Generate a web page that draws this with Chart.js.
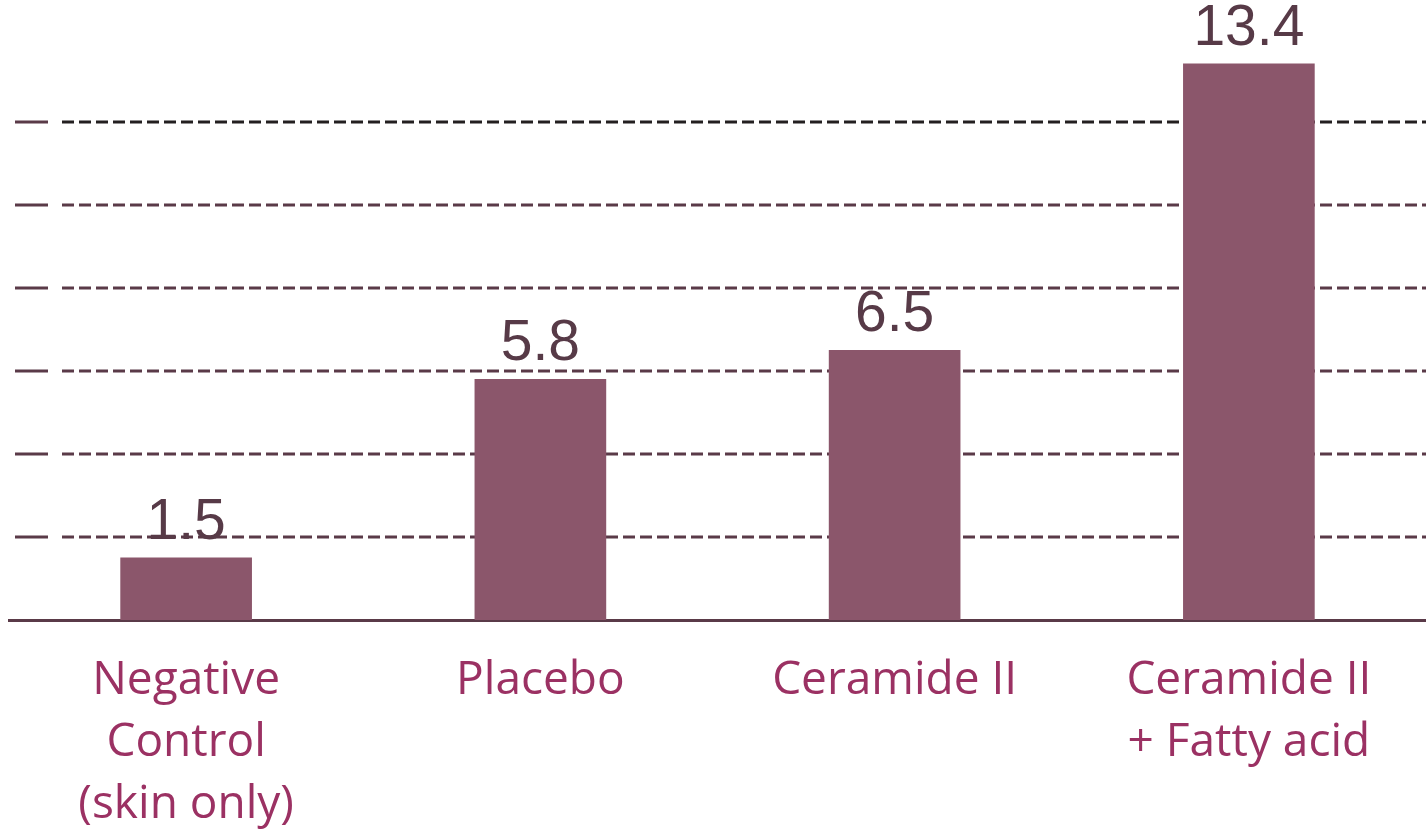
<!DOCTYPE html>
<html>
<head>
<meta charset="utf-8">
<script src="https://cdn.jsdelivr.net/npm/chart.js@4/dist/chart.umd.min.js"></script>
<style>
  body { margin: 0; background: #fff; }
</style>
</head>
<body>
<canvas id="myChart" width="1426" height="833"></canvas>
<script>
var categories = [["Negative", "Control", "(skin only)"], "Placebo", "Ceramide II", ["Ceramide II", "+ Fatty acid"]];
var values = [1.5, 5.8, 6.5, 13.4];
var valueLabels = ["1.5", "5.8", "6.5", "13.4"];

// dashed grid lines + short solid tick marks on the left
var gridPlugin = {
  id: 'dashGrid',
  beforeDatasetsDraw: function(chart) {
    var ctx = chart.ctx, y = chart.scales.y, area = chart.chartArea;
    ctx.save();
    ctx.lineWidth = 3;
    y.ticks.forEach(function(t) {
      if (t.value <= 0 || t.value >= y.max) return;
      var py = y.getPixelForValue(t.value);
      ctx.strokeStyle = "#5a3a48";
      ctx.setLineDash([]);
      ctx.beginPath(); ctx.moveTo(15, py); ctx.lineTo(48, py); ctx.stroke();
      ctx.strokeStyle = t.value == 12 ? "#231f20" : "#5a3a48";
      ctx.setLineDash([12, 5]);
      ctx.beginPath(); ctx.moveTo(62, py); ctx.lineTo(area.right, py); ctx.stroke();
    });
    ctx.restore();
  }
};

var valuePlugin = {
  id: 'valueLabels',
  afterDatasetsDraw: function(chart) {
    var ctx = chart.ctx;
    ctx.save();
    ctx.font = '57px "Liberation Sans", Arial, sans-serif';
    ctx.fillStyle = "#573a47";
    ctx.textAlign = "center";
    ctx.textBaseline = "alphabetic";
    chart.getDatasetMeta(0).data.forEach(function(bar, i) {
      ctx.fillText(valueLabels[i], bar.x, bar.y - 19);
    });
    ctx.restore();
  }
};

new Chart("myChart", {
  type: "bar",
  data: {
    labels: categories,
    datasets: [{
      data: values,
      backgroundColor: "#8b566b",
      barThickness: 131
    }]
  },
  options: {
    responsive: false,
    animation: false,
    devicePixelRatio: 1,
    layout: { padding: { left: 9, right: 0, top: 39, bottom: 0 } },
    plugins: { legend: { display: false }, tooltip: { enabled: false } },
    scales: {
      x: {
        grid: { display: false, drawTicks: false },
        border: { display: true, color: "#5a3a48", width: 3 },
        ticks: {
          padding: 30,
          color: "#9b3163",
          maxRotation: 0,
          autoSkip: false,
          font: { family: '"Open Sans", sans-serif', size: 46, lineHeight: 1.35 }
        },
        afterFit: function(s) { s.height = 213; }
      },
      y: {
        display: false,
        min: 0,
        max: 14,
        ticks: { stepSize: 2 }
      }
    }
  },
  plugins: [gridPlugin, valuePlugin]
});
</script>
</body>
</html>
